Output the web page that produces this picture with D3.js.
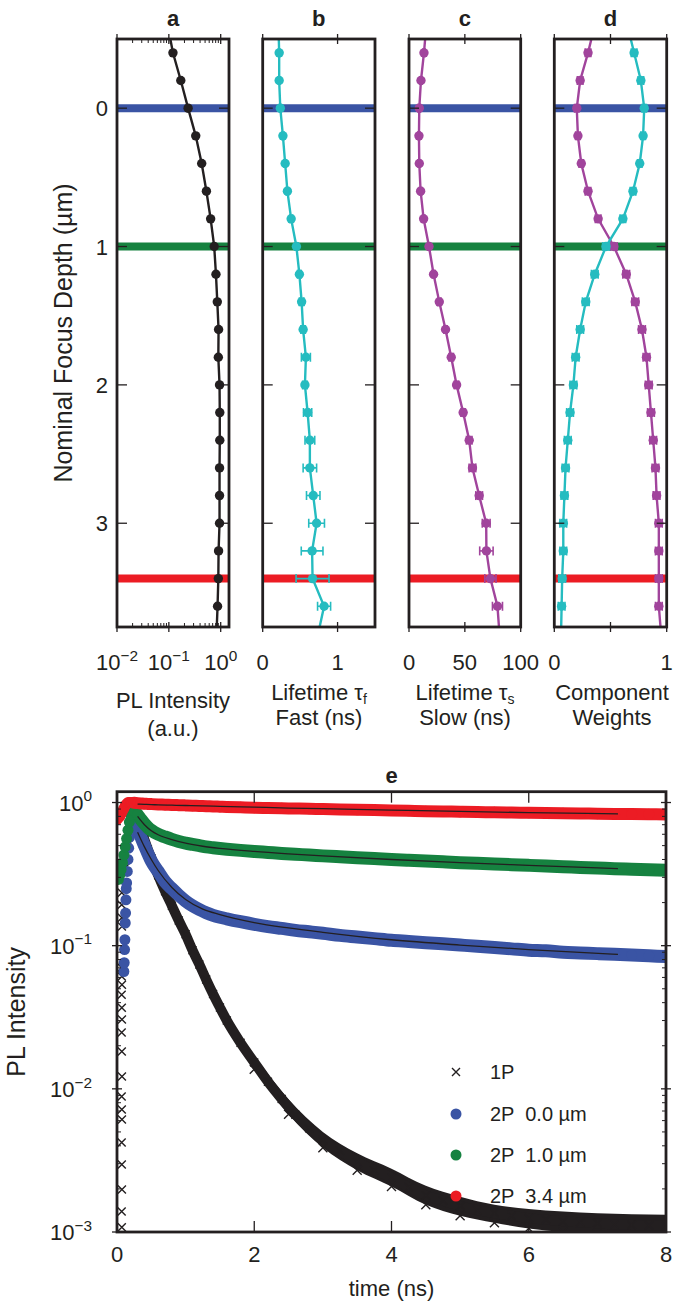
<!DOCTYPE html>
<html><head><meta charset="utf-8">
<script src="https://cdn.jsdelivr.net/npm/d3@7"></script>
<style>body{margin:0;background:#fff} svg{display:block;font-family:"Liberation Sans",Arial,Helvetica,sans-serif}</style>
</head><body><svg id="c" width="685" height="1308"></svg>
<script>
// ---------------- DATA (top panels) ----------------
const depths      = [-0.6,-0.4,-0.2,0,0.2,0.4,0.6,0.8,1.0,1.2,1.4,1.6,1.8,2.0,2.2,2.4,2.6,2.8,3.0,3.2,3.4,3.6,3.8];
const plIntensity = [0.095,0.12,0.17,0.235,0.33,0.43,0.53,0.64,0.75,0.81,0.86,0.91,0.90,0.95,0.96,0.96,0.95,0.95,0.95,0.91,0.90,0.87,0.83];
const tauFast     = [0.21,0.22,0.22,0.235,0.27,0.30,0.33,0.38,0.45,0.49,0.52,0.54,0.577,0.564,0.60,0.63,0.63,0.675,0.72,0.66,0.666,0.82,0.74];
const tauFastErr  = [0,0.01,0.01,0.01,0.015,0.015,0.015,0.02,0.02,0.025,0.03,0.03,0.06,0.03,0.055,0.065,0.09,0.09,0.105,0.145,0.22,0.087,0];
const tauSlow     = [15.5,13.4,10.7,9.2,8.9,9.2,10.4,13.1,17.9,22.0,27.1,32.7,37.8,42.6,48.5,53.9,56.8,62.8,69.1,69.3,72.9,79.2,81];
const tauSlowErr  = [0,1,1,1,1,1,1,1,1.2,1.2,1.5,1.5,2,2,2,2.5,3,3,3.5,6,5,4.5,0];
const weightSlow  = [0.36,0.30,0.23,0.20,0.21,0.24,0.30,0.39,0.53,0.64,0.72,0.78,0.82,0.84,0.86,0.88,0.90,0.91,0.93,0.93,0.93,0.93,0.95];
const weightFast  = [0.65,0.71,0.77,0.80,0.79,0.76,0.70,0.61,0.46,0.36,0.28,0.23,0.19,0.17,0.14,0.12,0.10,0.09,0.08,0.08,0.07,0.065,0.06];
const weightErr   = [0,0.025,0.025,0.02,0.02,0.02,0.025,0.025,0.03,0.03,0.03,0.03,0.03,0.03,0.03,0.03,0.03,0.03,0.03,0.03,0.03,0.03,0];
const markDepths  = [0, 1, 3.4];
const depthTicks  = [0, 1, 2, 3];
const panelTitles = ["a", "b", "c", "d"];

// ---------------- DATA (bottom panel) ----------------
const tDecay = [0.25,0.30,0.35,0.40,0.45,0.50,0.6,0.7,0.8,0.9,1.0,1.1,1.2,1.3,1.4,1.5,1.6,1.8,2.0,2.2,2.4,2.6,2.8,3.0,3.25,3.5,3.75,4.0,4.25,4.5,4.75,5.0,5.25,5.5,5.75,6.0,6.25,6.5,6.75,7.0,7.25,7.5,7.75,8.0];
const p1Decay    = [0.80,0.72,0.63,0.55,0.47,0.41,0.31,0.24,0.19,0.15,0.12,0.093,0.074,0.058,0.046,0.037,0.030,0.021,0.0153,0.0112,0.0085,0.0066,0.0053,0.0044,0.0037,0.0031,0.0027,0.0024,0.00205,0.0018,0.00165,0.00152,0.00142,0.00135,0.0013,0.00125,0.00122,0.00119,0.00117,0.00115,0.00113,0.00112,0.00111,0.0011];
const blueDecay  = [0.80,0.66,0.57,0.50,0.44,0.39,0.33,0.28,0.25,0.225,0.205,0.19,0.179,0.17,0.163,0.158,0.154,0.147,0.141,0.136,0.132,0.128,0.125,0.122,0.118,0.115,0.112,0.109,0.107,0.105,0.103,0.101,0.099,0.097,0.095,0.093,0.092,0.090,0.089,0.088,0.087,0.086,0.085,0.084];
const greenDecay = [0.88,0.82,0.76,0.71,0.67,0.64,0.60,0.575,0.553,0.535,0.52,0.51,0.50,0.49,0.483,0.477,0.472,0.463,0.455,0.448,0.441,0.435,0.43,0.424,0.418,0.412,0.406,0.40,0.395,0.39,0.385,0.38,0.376,0.372,0.368,0.364,0.36,0.356,0.352,0.349,0.345,0.342,0.339,0.336];
const redDecay   = [0.995,0.99,0.985,0.98,0.978,0.975,0.97,0.966,0.962,0.958,0.955,0.951,0.947,0.943,0.939,0.935,0.932,0.926,0.92,0.916,0.912,0.908,0.904,0.90,0.895,0.89,0.885,0.88,0.875,0.87,0.866,0.862,0.858,0.855,0.851,0.848,0.845,0.842,0.839,0.836,0.833,0.83,0.828,0.825];

// noisy spread of the 1P tail (upper / lower edge of the scatter band)
const tEnv = [2.0,2.5,3.0,3.5,4.0,4.5,5.0,5.5,6.0,6.5,7.0,7.5,8.0];
const p1Hi = [0.0171,0.00846,0.0050,0.00355,0.00277,0.0021,0.00176,0.00155,0.00145,0.00139,0.00135,0.00133,0.00132];
const p1Lo = [0.0137,0.00665,0.00387,0.0027,0.00208,0.00155,0.0013,0.00116,0.00106,0.0010,0.00096,0.00093,0.0009];

const p1RiseT    = [0.12,0.15,0.18,0.20,0.22];
const p1Rise     = [0.35,0.55,0.78,0.88,0.86];
const p1PreT     = [0.07,0.068,0.07,0.072,0.068,0.07,0.072,0.068,0.07,0.072,0.068,0.07,0.072,0.068,0.07,0.072,0.068,0.07,0.072,0.068,0.07];
const p1Pre      = [0.234,0.193,0.157,0.136,0.0702,0.0608,0.0534,0.0455,0.0369,0.0305,0.0247,0.0182,0.0122,0.00884,0.00717,0.0061,0.00422,0.00296,0.00198,0.00139,0.00108];
const blueRiseT  = [0.10,0.105,0.11,0.115,0.12,0.125,0.13,0.135,0.14,0.15,0.16,0.17,0.18,0.19,0.20,0.21,0.22];
const blueRise   = [0.066,0.076,0.094,0.11,0.144,0.169,0.209,0.25,0.274,0.33,0.40,0.48,0.57,0.66,0.74,0.80,0.84];
const greenRiseT = [0.02,0.04,0.06,0.08,0.10,0.12,0.14,0.16,0.18,0.20,0.22];
const greenRise  = [0.29,0.31,0.34,0.38,0.43,0.49,0.56,0.64,0.73,0.82,0.88];
const redRiseT   = [0.0,0.02,0.04,0.06,0.08,0.10,0.12,0.14,0.16,0.18,0.20,0.22];
const redRise    = [0.76,0.78,0.80,0.83,0.87,0.91,0.95,0.98,1.0,1.0,1.0,0.998];

const fitT     = [0.3,0.4,0.5,0.6,0.8,1.0,1.25,1.5,2.0,2.5,3.0,4.0,5.0,6.0,7.3];
const blueFit  = [0.62,0.49,0.40,0.335,0.255,0.21,0.18,0.165,0.145,0.133,0.124,0.11,0.101,0.094,0.087];
const greenFit = [0.80,0.70,0.635,0.595,0.55,0.52,0.495,0.478,0.455,0.438,0.424,0.40,0.38,0.364,0.345];
const redFit   = [0.975,0.97,0.967,0.963,0.958,0.953,0.946,0.94,0.928,0.915,0.905,0.885,0.866,0.85,0.833];

const timeTicks = [0,2,4,6,8];
const legendLabels = ["1P", "2P  0.0 µm", "2P  1.0 µm", "2P  3.4 µm"];

// ---------------- STYLE ----------------
const K = "#231f20", BLUE = "#3a54a4", GREEN = "#168240", RED = "#ec1c24", CYAN = "#25bcc0", MAG = "#a1449c";
const markColors = [BLUE, GREEN, RED];
const FS = 22;

const svg = d3.select("#c");
const defs = svg.append("defs");

function sup(g, x, y, base, exp, anchor, size) {
  const t = g.append("text").attr("x", x).attr("y", y).attr("text-anchor", anchor)
    .attr("font-size", size).attr("fill", K);
  t.append("tspan").text(base);
  t.append("tspan").attr("dy", -size * 0.42).attr("font-size", size * 0.7).text(exp);
  return t;
}

// ---------------- TOP PANELS ----------------
const pTop = 39, pBot = 627;
const yD = d3.scaleLinear().domain([-0.5, 3.75]).range([pTop, pBot]);
const panels = [
  {x: d3.scaleLog().domain([0.01, 1.446]).range([117, 229])},
  {x: d3.scaleLinear().domain([0, 1.5]).range([262.7, 375])},
  {x: d3.scaleLinear().domain([0, 100]).range([409, 520.7])},
  {x: d3.scaleLinear().domain([0, 1]).range([554.3, 666.7])}
];

panels.forEach((p, i) => {
  const [x0, x1] = p.x.range();
  const g = svg.append("g");
  const cid = "clip" + i;
  defs.append("clipPath").attr("id", cid).append("rect")
    .attr("x", x0).attr("y", pTop).attr("width", x1 - x0).attr("height", pBot - pTop);
  const gd = g.append("g").attr("clip-path", `url(#${cid})`);
  markDepths.forEach((d, k) => {
    gd.append("line").attr("x1", x0).attr("x2", x1).attr("y1", yD(d)).attr("y2", yD(d))
      .attr("stroke", markColors[k]).attr("stroke-width", 8);
  });
  p.gd = gd; p.g = g;
});

function series(p, vals, errs, color, r) {
  const pts = depths.map((d, i) => ({d, v: vals[i], e: errs ? errs[i] : 0}));
  const line = d3.line().x(q => p.x(q.v)).y(q => yD(q.d));
  p.gd.append("path").attr("d", line(pts)).attr("fill", "none").attr("stroke", color).attr("stroke-width", 2.4);
  if (errs) {
    pts.filter(q => q.e > 0).forEach(q => {
      const y = yD(q.d), xa = p.x(q.v - q.e), xb = p.x(q.v + q.e);
      p.gd.append("line").attr("x1", xa).attr("x2", xb).attr("y1", y).attr("y2", y).attr("stroke", color).attr("stroke-width", 1.6);
      [xa, xb].forEach(xx => p.gd.append("line").attr("x1", xx).attr("x2", xx).attr("y1", y - 4.5).attr("y2", y + 4.5).attr("stroke", color).attr("stroke-width", 1.6));
    });
  }
  p.gd.selectAll(null).data(pts).enter().append("circle")
    .attr("cx", q => p.x(q.v)).attr("cy", q => yD(q.d)).attr("r", r).attr("fill", color);
}
series(panels[0], plIntensity, null, K, 4.7);
series(panels[1], tauFast, tauFastErr, CYAN, 4.7);
series(panels[2], tauSlow, tauSlowErr, MAG, 4.7);
series(panels[3], weightSlow, weightErr, MAG, 4.7);
series(panels[3], weightFast, weightErr, CYAN, 4.7);

const xTickSets = [[0.01, 0.1, 1], [0, 1], [0, 50, 100], [0, 0.5, 1]];
const xTickLabels = [null, ["0", "1"], ["0", "50", "100"], ["0", "", "1"]];
panels.forEach((p, i) => {
  const [x0, x1] = p.x.range();
  const g = p.g;
  depthTicks.forEach(d => {
    const y = yD(d);
    g.append("line").attr("x1", x0).attr("x2", x0 + 10).attr("y1", y).attr("y2", y).attr("stroke", K).attr("stroke-width", 1.3);
    g.append("line").attr("x1", x1 - 10).attr("x2", x1).attr("y1", y).attr("y2", y).attr("stroke", K).attr("stroke-width", 1.3);
  });
  xTickSets[i].forEach(v => {
    const x = p.x(v);
    [pTop, pBot].forEach(yy => g.append("line").attr("x1", x).attr("x2", x).attr("y1", yy - 5).attr("y2", yy + 5).attr("stroke", K).attr("stroke-width", 1.3));
  });
  if (i === 0) {
    const minors = [];
    [0.01, 0.1].forEach(dec => { for (let m = 2; m <= 9; m++) minors.push(dec * m); });
    minors.forEach(v => {
      const x = p.x(v);
      g.append("line").attr("x1", x).attr("x2", x).attr("y1", pTop).attr("y2", pTop + 4).attr("stroke", K).attr("stroke-width", 1);
      g.append("line").attr("x1", x).attr("x2", x).attr("y1", pBot - 4).attr("y2", pBot).attr("stroke", K).attr("stroke-width", 1);
    });
    sup(g, p.x(0.01), 670, "10", "−2", "middle", FS);
    sup(g, p.x(0.1), 670, "10", "−1", "middle", FS);
    sup(g, p.x(1), 670, "10", "0", "middle", FS);
    depthTicks.forEach(d => g.append("text").attr("x", 108).attr("y", yD(d) + 8).attr("text-anchor", "end")
      .attr("font-size", FS).attr("fill", K).text(d));
  } else {
    xTickSets[i].forEach((v, k) => {
      if (xTickLabels[i][k]) g.append("text").attr("x", p.x(v)).attr("y", 670).attr("text-anchor", "middle")
        .attr("font-size", FS).attr("fill", K).text(xTickLabels[i][k]);
    });
  }
  g.append("rect").attr("x", x0).attr("y", pTop).attr("width", x1 - x0).attr("height", pBot - pTop)
    .attr("fill", "none").attr("stroke", K).attr("stroke-width", 2.8);
  g.append("text").attr("x", (x0 + x1) / 2).attr("y", 26).attr("text-anchor", "middle")
    .attr("font-size", FS).attr("font-weight", "bold").attr("fill", K).text(panelTitles[i]);
});

function label2(x, y1, y2, l1, l2, sub) {
  const t = svg.append("text").attr("x", x).attr("y", y1).attr("text-anchor", "middle").attr("font-size", FS).attr("fill", K);
  t.append("tspan").text(l1);
  if (sub) t.append("tspan").attr("dy", 4).attr("font-size", 14).text(sub);
  svg.append("text").attr("x", x).attr("y", y2).attr("text-anchor", "middle").attr("font-size", FS).attr("fill", K).text(l2);
}
label2(173, 708, 736, "PL Intensity", "(a.u.)");
label2(319, 700, 725, "Lifetime τ", "Fast (ns)", "f");
label2(465, 700, 725, "Lifetime τ", "Slow (ns)", "s");
label2(612, 700, 725, "Component", "Weights");

svg.append("text").attr("transform", "translate(72,333) rotate(-90)").attr("text-anchor", "middle")
  .attr("font-size", 25).attr("fill", K).text("Nominal Focus Depth (µm)");

// ---------------- BOTTOM PANEL ----------------
const bx0 = 117, bx1 = 666, by0 = 791.7, by1 = 1232;
const xT = d3.scaleLinear().domain([0, 8]).range([bx0, bx1]);
const yI = d3.scaleLog().domain([0.001, 1.19]).range([by1, by0]);
defs.append("clipPath").attr("id", "clipE").append("rect").attr("x", bx0).attr("y", by0).attr("width", bx1 - bx0).attr("height", by1 - by0);
const ge = svg.append("g");
const gdE = ge.append("g").attr("clip-path", "url(#clipE)");

const zipS = (ts, vs) => ts.map((t, i) => ({t, v: vs[i]}));
const bandLine = d3.line().curve(d3.curveMonotoneX).x(q => xT(q.t)).y(q => yI(q.v));
function xMark(g, pts, size, color) {
  const s = size / 2;
  g.selectAll(null).data(pts).enter().append("path")
    .attr("d", q => { const x = xT(q.t), y = yI(q.v); return `M${x - s},${y - s}L${x + s},${y + s}M${x - s},${y + s}L${x + s},${y - s}`; })
    .attr("stroke", color).attr("stroke-width", 1.4).attr("fill", "none");
}
// 1P
const p1Pts = zipS(p1RiseT.concat(tDecay), p1Rise.concat(p1Decay));
const env = tEnv.map((t, i) => ({t, lo: p1Lo[i], hi: p1Hi[i]}));
gdE.append("path").attr("d", d3.area().curve(d3.curveMonotoneX).x(q => xT(q.t)).y0(q => yI(q.lo)).y1(q => yI(q.hi))(env)).attr("fill", K);
gdE.append("path").attr("d", bandLine(zipS(tDecay, p1Decay))).attr("fill", "none").attr("stroke", K).attr("stroke-width", 10).attr("stroke-linecap", "round");
xMark(gdE, p1Pts, 8, K);
xMark(gdE, env.map(q => ({t: q.t, v: q.lo})), 9, K);
xMark(gdE, zipS(p1PreT, p1Pre), 8, K);
// 2P
[[blueRiseT, blueRise, blueDecay, BLUE, 13], [greenRiseT, greenRise, greenDecay, GREEN, 13], [redRiseT, redRise, redDecay, RED, 12]].forEach(([rt, rv, dv, col, w]) => {
  const pts = zipS(rt.concat(tDecay), rv.concat(dv));
  gdE.append("path").attr("d", bandLine(zipS(tDecay, dv))).attr("fill", "none").attr("stroke", col).attr("stroke-width", w).attr("stroke-linecap", "round");
  gdE.selectAll(null).data(pts).enter().append("circle").attr("cx", q => xT(q.t)).attr("cy", q => yI(q.v)).attr("r", 5.5).attr("fill", col);
});
const fitLine = d3.line().curve(d3.curveMonotoneX).x(q => xT(q.t)).y(q => yI(q.v));
[blueFit, greenFit, redFit].forEach(f => gdE.append("path").attr("d", fitLine(zipS(fitT, f))).attr("fill", "none").attr("stroke", K).attr("stroke-width", 1.3));

timeTicks.forEach(t => {
  const x = xT(t);
  ge.append("line").attr("x1", x).attr("x2", x).attr("y1", by1 - 11).attr("y2", by1).attr("stroke", K).attr("stroke-width", 1.3);
  ge.append("line").attr("x1", x).attr("x2", x).attr("y1", by0).attr("y2", by0 + 11).attr("stroke", K).attr("stroke-width", 1.3);
  ge.append("text").attr("x", x).attr("y", 1262).attr("text-anchor", "middle").attr("font-size", FS).attr("fill", K).text(t);
});
const decades = [0.001, 0.01, 0.1, 1];
const expLabels = ["−3", "−2", "−1", "0"];
decades.forEach((d, k) => {
  const y = yI(d);
  [bx0, bx1].forEach(xx => ge.append("line").attr("x1", xx - 5).attr("x2", xx + 5).attr("y1", y).attr("y2", y).attr("stroke", K).attr("stroke-width", 1.3));
  sup(ge, 92, y + 8, "10", expLabels[k], "end", FS);
  if (d < 1) for (let m = 2; m <= 9; m++) {
    const ym = yI(d * m);
    ge.append("line").attr("x1", bx0).attr("x2", bx0 + 4).attr("y1", ym).attr("y2", ym).attr("stroke", K).attr("stroke-width", 1);
    ge.append("line").attr("x1", bx1 - 4).attr("x2", bx1).attr("y1", ym).attr("y2", ym).attr("stroke", K).attr("stroke-width", 1);
  }
});
ge.append("rect").attr("x", bx0).attr("y", by0).attr("width", bx1 - bx0).attr("height", by1 - by0)
  .attr("fill", "none").attr("stroke", K).attr("stroke-width", 2.8);
ge.append("text").attr("x", (bx0 + bx1) / 2).attr("y", 783).attr("text-anchor", "middle").attr("font-size", FS).attr("font-weight", "bold").attr("fill", K).text("e");
ge.append("text").attr("x", (bx0 + bx1) / 2).attr("y", 1296).attr("text-anchor", "middle").attr("font-size", FS).attr("fill", K).text("time (ns)");
ge.append("text").attr("transform", `translate(25,${(by0 + by1) / 2}) rotate(-90)`).attr("text-anchor", "middle").attr("font-size", 25).attr("fill", K).text("PL Intensity");

const legY = [1072, 1114, 1155, 1196];
const legCols = [K, BLUE, GREEN, RED];
legendLabels.forEach((lab, k) => {
  const y = legY[k];
  if (k === 0) {
    ge.append("path").attr("d", `M452,${y - 4}L460,${y + 4}M452,${y + 4}L460,${y - 4}`).attr("stroke", K).attr("stroke-width", 1.4);
  } else {
    ge.append("circle").attr("cx", 456).attr("cy", y).attr("r", 5.5).attr("fill", legCols[k]);
  }
  ge.append("text").attr("x", 490).attr("y", y + 7).attr("font-size", 20).attr("fill", K).style("white-space", "pre").text(lab);
});
</script></body></html>
